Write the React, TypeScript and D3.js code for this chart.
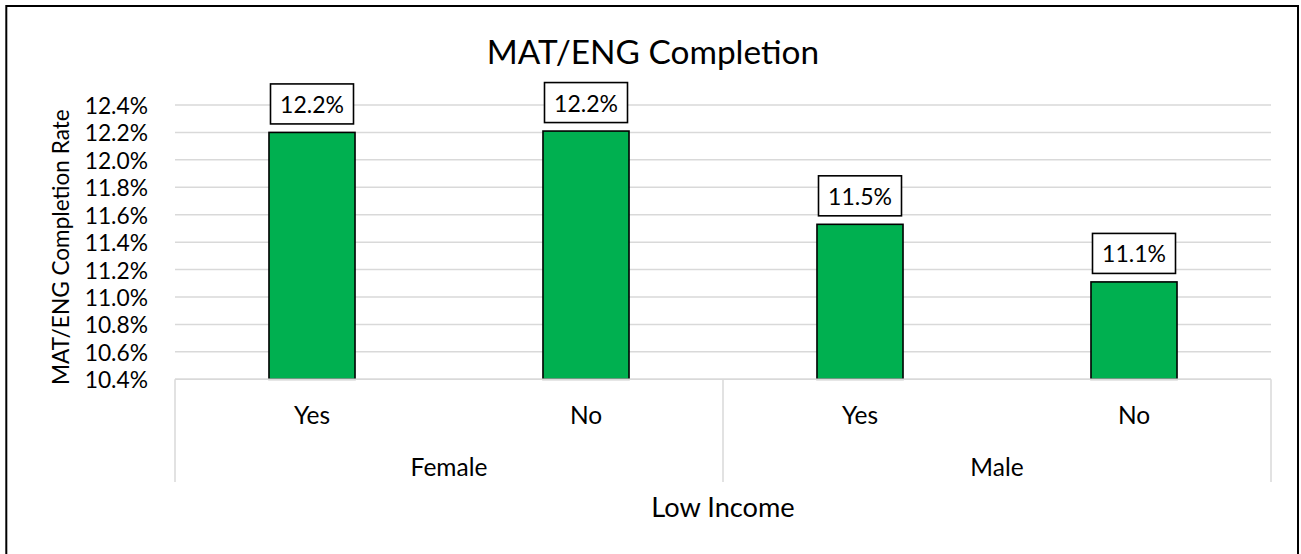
import React from "react";
import * as d3 from "d3";

const groups = ["Female", "Male"];
const categories = ["Yes", "No", "Yes", "No"];
const values = [12.2, 12.21, 11.53, 11.11];
const yTicks = [10.4, 10.6, 10.8, 11.0, 11.2, 11.4, 11.6, 11.8, 12.0, 12.2, 12.4];

const title = "MAT/ENG Completion";
const yTitle = "MAT/ENG Completion Rate";
const xTitle = "Low Income";

const W = 1301;
const H = 554;
const FONT = "Lato, 'Open Sans', sans-serif";

export default function App() {
  const left = 175;
  const right = 1271;
  const top = 105;
  const bottom = 379.3;

  const x = d3
    .scaleBand<number>()
    .domain(d3.range(categories.length))
    .range([left, right])
    .padding(0);
  const gx = d3.scaleBand<string>().domain(groups).range([left, right]).padding(0);
  const y = d3.scaleLinear().domain([10.4, 12.4]).range([bottom, top]);

  const barW = x.bandwidth() * 0.314;
  const sepBottom = 482;
  const grid = "#d9d9d9";

  return (
    <svg
      width={W}
      height={H}
      style={{ position: "absolute", left: 0, top: 0, background: "#fff" }}
      fontFamily={FONT}
    >
      <rect x={0} y={0} width={W} height={H} fill="#fff" />
      {/* outer border */}
      <rect x={6.3} y={6} width={1291.7} height={600} fill="none" stroke="#000" strokeWidth={2} />

      {/* title */}
      <text x={653} y={50.5} textAnchor="middle" dominantBaseline="central" fontSize={33.4} fill="#000">
        {title}
      </text>

      {/* gridlines */}
      {yTicks.map((t) => (
        <line key={t} x1={left} x2={right} y1={y(t)} y2={y(t)} stroke={grid} strokeWidth={1.5} />
      ))}

      {/* y tick labels */}
      {yTicks.map((t) => (
        <text
          key={"l" + t}
          x={148}
          y={y(t)}
          textAnchor="end"
          dominantBaseline="central"
          fontSize={22.8}
          fill="#000"
        >
          {t.toFixed(1) + "%"}
        </text>
      ))}

      {/* y title */}
      <text
        transform={`translate(60,${(top + bottom) / 2 + 5}) rotate(-90)`}
        textAnchor="middle"
        dominantBaseline="central"
        fontSize={22.6}
        fill="#000"
      >
        {yTitle}
      </text>

      {/* bars */}
      {values.map((v, i) => {
        const cx = (x(i) as number) + x.bandwidth() / 2;
        return (
          <rect
            key={"b" + i}
            x={cx - barW / 2}
            y={y(v)}
            width={barW}
            height={bottom - y(v)}
            fill="#00B050"
            stroke="#000"
            strokeWidth={1.6}
          />
        );
      })}

      {/* category axis */}
      <line x1={left} x2={right} y1={bottom} y2={bottom} stroke={grid} strokeWidth={1.5} />
      {[left, gx("Male") as number, right].map((sx, i) => (
        <line key={"s" + i} x1={sx} x2={sx} y1={bottom} y2={sepBottom} stroke={grid} strokeWidth={1.5} />
      ))}

      {/* data labels */}
      {values.map((v, i) => {
        const cx = (x(i) as number) + x.bandwidth() / 2;
        const bh = 40;
        const bw = 83;
        const by = y(v) - 8.5 - bh;
        return (
          <g key={"dl" + i}>
            <rect x={cx - bw / 2} y={by} width={bw} height={bh} fill="#fff" stroke="#000" strokeWidth={1.6} />
            <text x={cx} y={by + bh / 2} textAnchor="middle" dominantBaseline="central" fontSize={23} fill="#000">
              {v.toFixed(1) + "%"}
            </text>
          </g>
        );
      })}

      {/* category labels */}
      {categories.map((c, i) => (
        <text
          key={"c" + i}
          x={(x(i) as number) + x.bandwidth() / 2}
          y={414}
          textAnchor="middle"
          dominantBaseline="central"
          fontSize={24.5}
          fill="#000"
        >
          {c}
        </text>
      ))}
      {groups.map((g) => (
        <text
          key={g}
          x={(gx(g) as number) + gx.bandwidth() / 2}
          y={466}
          textAnchor="middle"
          dominantBaseline="central"
          fontSize={24.5}
          fill="#000"
        >
          {g}
        </text>
      ))}
      <text x={(left + right) / 2} y={506} textAnchor="middle" dominantBaseline="central" fontSize={27.2} fill="#000">
        {xTitle}
      </text>
    </svg>
  );
}
